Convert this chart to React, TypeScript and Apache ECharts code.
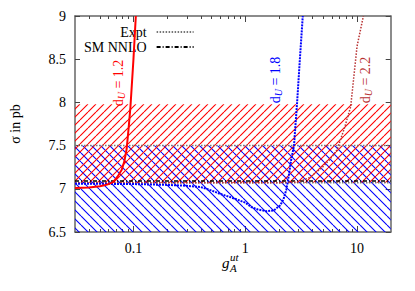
import React, { useEffect, useRef } from 'react';
import * as echarts from 'echarts';

const X_MIN = 0.03;
const X_MAX = 20;
const Y_MIN = 6.5;
const Y_MAX = 9;
const Y_STEP = 0.5;

const majorXTicks = [0.1, 1, 10];
const minorXTicks = [
  0.04, 0.05, 0.06, 0.07, 0.08, 0.09,
  0.2, 0.3, 0.4, 0.5, 0.6, 0.7, 0.8, 0.9,
  2, 3, 4, 5, 6, 7, 8, 9,
];

// d_U = 1.2 (red solid)
const du12X = [0.03, 0.04, 0.05, 0.055, 0.06, 0.065, 0.068, 0.072, 0.0786, 0.083, 0.0869, 0.0905, 0.094, 0.1, 0.105];
const du12Y = [7.01, 7.015, 7.03, 7.04, 7.055, 7.075, 7.1, 7.14, 7.22, 7.32, 7.46, 7.7, 7.95, 8.5, 9.0];

// d_U = 1.8 (blue dotted)
const du18X = [0.03, 0.1, 0.2, 0.3, 0.4, 0.5, 0.6, 0.75, 1.0, 1.13, 1.3, 1.56, 1.8, 2.06, 2.2, 2.33, 2.45, 2.57, 2.73, 2.91, 3.08, 3.27];
const du18Y = [7.06, 7.055, 7.045, 7.035, 7.02, 6.98, 6.94, 6.9, 6.84, 6.79, 6.76, 6.74, 6.75, 6.81, 6.88, 6.99, 7.15, 7.33, 7.5, 8.0, 8.5, 9.0];

// d_U = 2.2 (dark red dotted)
const du22X = [0.03, 1, 2, 3, 3.77, 4.9, 5.8, 6.62, 7.7, 8.77, 10, 11.4];
const du22Y = [7.07, 7.07, 7.07, 7.08, 7.13, 7.25, 7.35, 7.45, 7.7, 7.95, 8.65, 9.0];

// horizontal reference lines
const exptLevels = [7.5, 7.07];
const smNnloLevel = 7.09;

// hatched bands [low, high]
const redBand = [7.07, 7.98];
const blueBand = [6.5, 7.5];

const FONT = 'Liberation Serif';

function zip(xs: number[], ys: number[]) {
  return xs.map((x, i) => [x, ys[i]]);
}

function hatch(color: string, size: number, dir: '/' | '\\') {
  const c = document.createElement('canvas');
  c.width = size;
  c.height = size;
  const ctx = c.getContext('2d')!;
  ctx.strokeStyle = color;
  ctx.lineWidth = 1.1;
  ctx.beginPath();
  for (const k of [-1, 0, 1]) {
    if (dir === '/') {
      ctx.moveTo(k * size, size);
      ctx.lineTo(k * size + size, 0);
    } else {
      ctx.moveTo(k * size, 0);
      ctx.lineTo(k * size + size, size);
    }
  }
  ctx.stroke();
  return c;
}

export default function App() {
  const ref = useRef<HTMLDivElement>(null);

  useEffect(() => {
    if (!ref.current) return;
    const chart = echarts.init(ref.current, undefined, { renderer: 'svg' });

    const frame = { show: true, lineStyle: { color: '#666', width: 1.5 } };
    const xBase = {
      type: 'log' as const,
      logBase: 10,
      min: X_MIN,
      max: X_MAX,
      splitLine: { show: false },
      gridIndex: 0,
    };

    const redPat = hatch('#ff0000', 8, '/');
    const bluePat = hatch('#0000ff', 9, '\\');

    const rotLabel = (x: number, y: number, val: string, color: string) => ({
      type: 'text',
      x,
      y,
      rotation: Math.PI / 2,
      silent: true,
      style: {
        text: `{d|d}{u|U}{t| = ${val}}`,
        fill: color,
        align: 'center',
        verticalAlign: 'middle',
        fontFamily: FONT,
        rich: {
          d: { fontFamily: FONT, fontSize: 14, fill: color },
          u: { fontFamily: FONT, fontSize: 10, fill: color, fontStyle: 'italic', padding: [7, 0, 0, 0] },
          t: { fontFamily: FONT, fontSize: 14, fill: color },
        },
      },
    });

    chart.setOption({
      animation: false,
      backgroundColor: '#fff',
      grid: { left: 67.7, top: 16, right: 24.3, bottom: 59, containLabel: false },
      legend: {
        data: ['Expt', 'SM NNLO'],
        orient: 'vertical',
        align: 'right',
        left: 79,
        top: 20,
        itemWidth: 37,
        itemHeight: 12,
        itemGap: 1,
        selectedMode: false,
        itemStyle: { opacity: 0 },
        textStyle: { fontFamily: FONT, fontSize: 14, lineHeight: 14, color: '#000', padding: [0, 5, 0, 0] },
      },
      xAxis: [
        {
          ...xBase,
          position: 'bottom',
          axisLine: frame,
          axisTick: { show: true, inside: true, length: 6, customValues: majorXTicks, lineStyle: { color: '#444' } },
          axisLabel: {
            customValues: majorXTicks,
            margin: 9,
            fontFamily: FONT,
            fontSize: 14,
            color: '#000',
            formatter: (v: number) => String(v),
          },
        },
        {
          ...xBase,
          position: 'bottom',
          axisLine: { show: false },
          axisTick: { show: true, inside: true, length: 3, customValues: minorXTicks, lineStyle: { color: '#444' } },
          axisLabel: { show: false },
        },
        {
          ...xBase,
          position: 'top',
          axisLine: frame,
          axisTick: { show: true, inside: true, length: 6, customValues: majorXTicks, lineStyle: { color: '#444' } },
          axisLabel: { show: false },
        },
        {
          ...xBase,
          position: 'top',
          axisLine: { show: false },
          axisTick: { show: true, inside: true, length: 3, customValues: minorXTicks, lineStyle: { color: '#444' } },
          axisLabel: { show: false },
        },
      ],
      yAxis: [
        {
          type: 'value',
          min: Y_MIN,
          max: Y_MAX,
          interval: Y_STEP,
          position: 'left',
          axisLine: frame,
          axisTick: { show: true, inside: true, length: 5, lineStyle: { color: '#444' } },
          splitLine: { show: false },
          axisLabel: {
            margin: 9,
            fontFamily: FONT,
            fontSize: 14,
            color: '#000',
            formatter: (v: number) => String(v),
          },
          name: 'σ in pb',
          nameLocation: 'middle',
          nameGap: 53,
          nameRotate: 90,
          nameTextStyle: { fontFamily: FONT, fontSize: 14, color: '#000' },
        },
        {
          type: 'value',
          min: Y_MIN,
          max: Y_MAX,
          interval: Y_STEP,
          position: 'right',
          axisLine: frame,
          axisTick: { show: true, inside: true, length: 5, lineStyle: { color: '#444' } },
          splitLine: { show: false },
          axisLabel: { show: false },
        },
      ],
      series: [
        {
          name: 'Expt',
          type: 'line',
          z: 2,
          symbol: 'none',
          silent: true,
          data: [[X_MIN, exptLevels[0]], [X_MAX, exptLevels[0]]],
          lineStyle: { color: '#777', width: 1.5, type: [1.5, 1.5] },
          itemStyle: { color: '#777' },
          markArea: {
            silent: true,
            data: [
              [
                { yAxis: blueBand[0], itemStyle: { color: { image: bluePat, repeat: 'repeat' }, opacity: 1 } },
                { yAxis: blueBand[1] },
              ],
              [
                { yAxis: redBand[0], itemStyle: { color: { image: redPat, repeat: 'repeat' }, opacity: 1 } },
                { yAxis: redBand[1] },
              ],
            ],
          },
        },
        {
          name: 'Expt',
          type: 'line',
          z: 3,
          symbol: 'none',
          silent: true,
          data: [[X_MIN, exptLevels[1]], [X_MAX, exptLevels[1]]],
          lineStyle: { color: '#777', width: 1.5, type: [1.5, 1.5] },
          itemStyle: { color: '#777' },
        },
        {
          name: 'SM NNLO',
          type: 'line',
          z: 4,
          symbol: 'none',
          silent: true,
          data: [[X_MIN, smNnloLevel], [X_MAX, smNnloLevel]],
          lineStyle: { color: '#000', width: 1.5, type: [4, 2, 1, 2] },
          itemStyle: { color: '#000' },
        },
        {
          name: 'd_U = 2.2',
          type: 'line',
          z: 5,
          symbol: 'none',
          silent: true,
          data: zip(du22X, du22Y),
          lineStyle: { color: '#b83232', width: 1.5, type: [1.5, 1.5] },
        },
        {
          name: 'd_U = 1.8',
          type: 'line',
          z: 6,
          symbol: 'none',
          silent: true,
          data: zip(du18X, du18Y),
          lineStyle: { color: '#0000ff', width: 2, type: [2, 1] },
        },
        {
          name: 'd_U = 1.2',
          type: 'line',
          z: 7,
          symbol: 'none',
          silent: true,
          data: zip(du12X, du12Y),
          lineStyle: { color: '#ff0000', width: 2 },
        },
      ],
      graphic: [
        rotLabel(118, 83, '1.2', '#ff0000'),
        rotLabel(275, 80, '1.8', '#0000ff'),
        rotLabel(365, 80, '2.2', '#b83232'),
        {
          type: 'text',
          x: 222,
          y: 270,
          silent: true,
          style: { text: 'g', fontFamily: FONT, fontSize: 15, fontStyle: 'italic', fill: '#000', verticalAlign: 'bottom' },
        },
        {
          type: 'text',
          x: 230,
          y: 273,
          silent: true,
          style: { text: 'A', fontFamily: FONT, fontSize: 11, fontStyle: 'italic', fill: '#000', verticalAlign: 'bottom' },
        },
        {
          type: 'text',
          x: 230,
          y: 262,
          silent: true,
          style: { text: 'ut', fontFamily: FONT, fontSize: 11, fontStyle: 'italic', fill: '#000', verticalAlign: 'bottom' },
        },
      ],
    });

    return () => chart.dispose();
  }, []);

  return (
    <div
      ref={ref}
      style={{ position: 'fixed', left: 0, top: 0, width: 415, height: 291 }}
    />
  );
}
